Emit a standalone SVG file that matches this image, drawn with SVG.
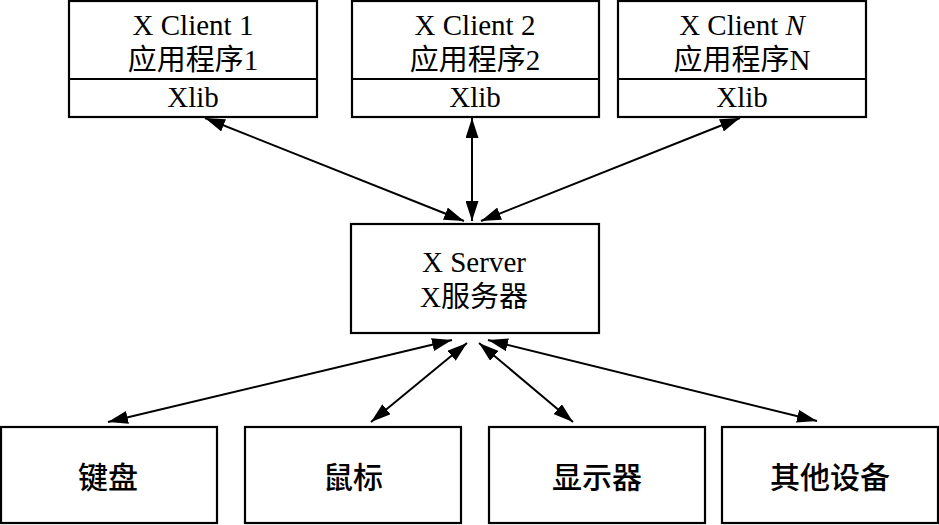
<svg xmlns="http://www.w3.org/2000/svg" width="939" height="525" viewBox="0 0 939 525">
<defs>
<marker id="ah" viewBox="0 0 20 13" refX="20" refY="6.5" markerWidth="20" markerHeight="13" markerUnits="userSpaceOnUse" orient="auto-start-reverse">
<path d="M0,0 L20,6.5 L0,13 z" fill="#000"/>
</marker>
<style>
.box{fill:#fff;stroke:#000;stroke-width:2.2}
.t{font-family:"Liberation Serif","Noto Sans CJK SC",serif;font-size:29px;fill:#000;text-anchor:middle}
.b{font-family:"Liberation Serif","Noto Sans CJK SC",serif;font-size:30px;font-weight:500;fill:#000;text-anchor:middle}
.c{stroke:#000;stroke-width:2;fill:none;marker-start:url(#ah);marker-end:url(#ah)}
</style>
</defs>
<rect width="939" height="525" fill="#fff"/>
<g id="client1">
<rect class="box" x="69" y="1" width="248" height="116"/>
<line x1="69" y1="79" x2="317" y2="79" stroke="#000" stroke-width="2.2"/>
<text class="t" x="193" y="35">X Client 1</text>
<text class="t" x="193" y="70">应用程序1</text>
<text class="t" x="193" y="107">Xlib</text>
</g>
<g id="client2">
<rect class="box" x="352" y="1" width="247" height="116"/>
<line x1="352" y1="79" x2="599" y2="79" stroke="#000" stroke-width="2.2"/>
<text class="t" x="475" y="35">X Client 2</text>
<text class="t" x="475" y="70">应用程序2</text>
<text class="t" x="475" y="107">Xlib</text>
</g>
<g id="clientN">
<rect class="box" x="618" y="1" width="248" height="116"/>
<line x1="618" y1="79" x2="866" y2="79" stroke="#000" stroke-width="2.2"/>
<text class="t" x="742" y="35">X Client <tspan font-style="italic">N</tspan></text>
<text class="t" x="742" y="70">应用程序N</text>
<text class="t" x="742" y="107">Xlib</text>
</g>
<g id="server">
<rect class="box" x="351" y="224" width="248" height="109"/>
<text class="t" x="474" y="272">X Server</text>
<text class="t" x="474" y="307">X服务器</text>
</g>
<g id="keyboard">
<rect class="box" x="1" y="427" width="216" height="96"/>
<text class="b" x="108" y="488">键盘</text>
</g>
<g id="mouse">
<rect class="box" x="245" y="427" width="216" height="96"/>
<text class="b" x="353" y="488">鼠标</text>
</g>
<g id="display">
<rect class="box" x="489" y="427" width="216" height="96"/>
<text class="b" x="597" y="488">显示器</text>
</g>
<g id="other">
<rect class="box" x="722" y="427" width="216" height="96"/>
<text class="b" x="830" y="488">其他设备</text>
</g>
<g id="connectors">
<line class="c" x1="205" y1="118" x2="464" y2="221"/>
<line class="c" x1="472" y1="118" x2="472" y2="221"/>
<line class="c" x1="740" y1="118" x2="481" y2="221"/>
<line class="c" x1="452" y1="340" x2="108" y2="422"/>
<line class="c" x1="467" y1="343" x2="371" y2="422"/>
<line class="c" x1="479" y1="343" x2="573" y2="422"/>
<line class="c" x1="488" y1="340" x2="817" y2="421"/>
</g>
</svg>
